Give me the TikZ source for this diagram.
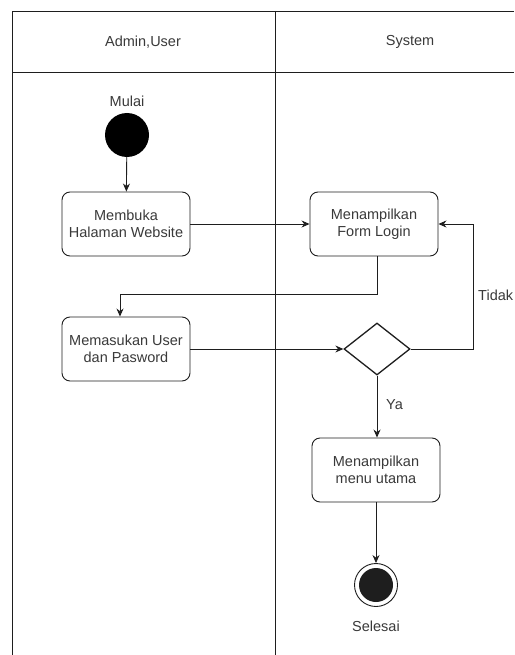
\documentclass[tikz,border=0pt]{standalone}
\usepackage{fontspec}
\setmainfont{Liberation Sans}
\usetikzlibrary{shapes.geometric,arrows.meta}
\definecolor{ln}{HTML}{1E1E1E}
\definecolor{tx}{HTML}{3A3A3A}
\tikzset{
  lane/.style={draw=ln, line width=0.9pt},
  act/.style={draw=ln, line width=0.9pt, rounded corners=8pt, minimum width=128pt, minimum height=64pt, align=center, text=tx, font=\fontsize{14.5}{17}\selectfont, inner sep=2pt},
  lbl/.style={text=tx, font=\fontsize{14.5}{17}\selectfont, inner sep=0pt},
  flow/.style={draw=ln, line width=0.9pt, -{Stealth[length=8pt,width=7pt]}},
  plain/.style={draw=ln, line width=0.9pt}
}
\begin{document}
\begin{tikzpicture}[x=1pt,y=-1pt]
\useasboundingbox (0,0) rectangle (514,655);
\fill[white] (0,0) rectangle (514,655);
% swimlanes
\coordinate (tl) at (12,11);
\coordinate (tr) at (514,11);
\coordinate (hl) at (12,72);
\coordinate (hr) at (514,72);
\coordinate (bl) at (12,655);
\coordinate (dt) at (275,11);
\coordinate (db) at (275,655);
\draw[lane] (tr) -- (tl) -- (bl);
\draw[lane] (hl) -- (hr);
\draw[lane] (dt) -- (db);
\node[lbl] (h1) at (143,42) {Admin,User};
\node[lbl] (h2) at (410,42) {System};
% start
\node[lbl] (mulai) at (127,101) {Mulai};
\node[circle, fill=black, minimum size=44pt, inner sep=0pt] (start) at (127,135) {};
% activities
\node[act] (b1) at (126,224) {Membuka\\Halaman Website};
\node[act] (b2) at (374,224) {Menampilkan\\Form Login};
\node[act] (b3) at (126,349) {Memasukan User\\dan Pasword};
\node[draw=ln, line width=1.3pt, shape=diamond, minimum width=66pt, minimum height=52pt, inner sep=0pt] (dia) at (377,349) {};
\node[act] (b4) at (376,470) {Menampilkan\\menu utama};
% end
\node[circle, draw=ln, line width=0.9pt, minimum size=43pt, inner sep=0pt] (end) at (376,585) {};
\node[circle, fill=ln, minimum size=34pt, inner sep=0pt] (endin) at (end.center) {};
\node[lbl] (selesai) at (376,626) {Selesai};
% labels
\node[lbl, anchor=west] (tidak) at (478,295) {Tidak};
\node[lbl, anchor=west] (ya) at (386,405) {Ya};
% connectors
\coordinate (c1) at (377,294);
\coordinate (c2) at (120,294);
\coordinate (c3) at (473,349);
\draw[flow] (start) -- (b1);
\draw[flow] (b1.east) -- (b2.west);
\draw[plain] (c1 |- b2.south) -- (c1) -- (c2);
\draw[flow] (c2) -- (c2 |- b3.north);
\draw[flow] (b3.east) -- (dia.west);
\draw[flow] (dia.east) -- (c3) |- (b2.east);
\draw[flow] (dia.south) -- (dia.south |- b4.north);
\draw[flow] (b4.south) -- (end.north);
\end{tikzpicture}
\end{document}
